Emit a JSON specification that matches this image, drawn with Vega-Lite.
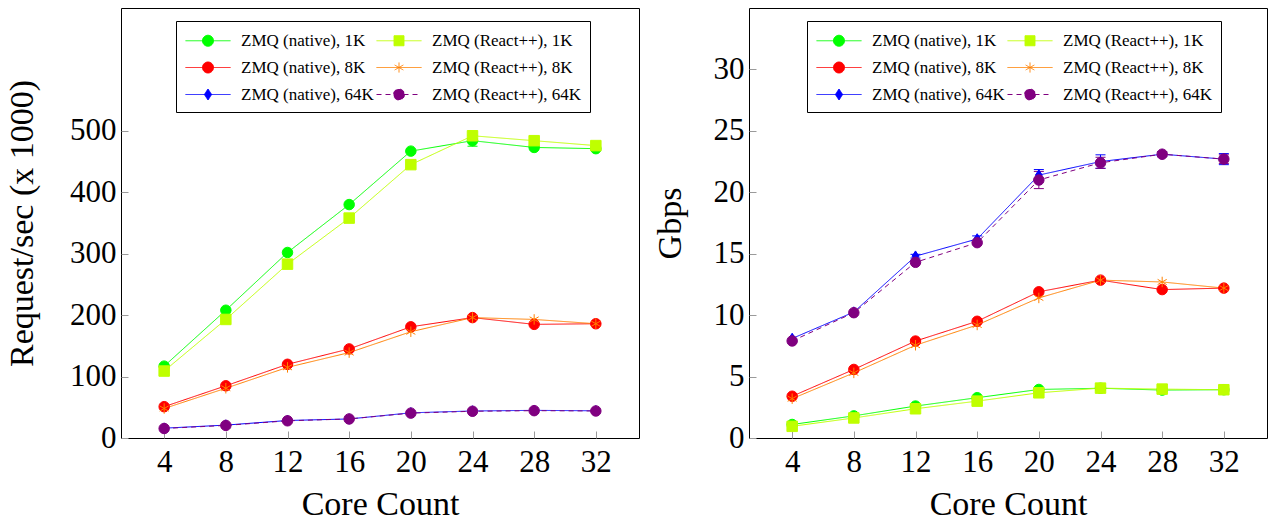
{
  "$schema": "https://vega.github.io/schema/vega-lite/v6.json",
  "padding": {"left": 5, "top": 7, "right": 0, "bottom": 0},
  "background": "white",
  "config": {
    "view": {"stroke": "black", "strokeWidth": 1},
    "axis": {
      "domain": false,
      "grid": false,
      "tickColor": "#9a9a9a",
      "tickSize": -7,
      "labelFont": "Liberation Serif",
      "labelFontSize": 31,
      "labelColor": "black",
      "titleFont": "Liberation Serif",
      "titleFontSize": 34,
      "titleFontWeight": "normal",
      "titleColor": "black"
    },
    "legend": {
      "orient": "none",
      "columns": 2,
      "strokeColor": "black",
      "fillColor": "white",
      "padding": 9,
      "labelFont": "Liberation Serif",
      "labelFontSize": 17,
      "labelColor": "black",
      "symbolSize": 400,
      "symbolStrokeWidth": 1,
      "symbolOffset": 12.5,
      "labelOffset": 22.5,
      "rowPadding": 8,
      "columnPadding": 0
    },
    "point": {"size": 110, "opacity": 1, "strokeWidth": 1, "filled": true}
  },
  "datasets": {
    "req": [
      {"series": "ZMQ (native), 1K", "cores": 4, "value": 117},
      {"series": "ZMQ (native), 1K", "cores": 8, "value": 208},
      {"series": "ZMQ (native), 1K", "cores": 12, "value": 302},
      {"series": "ZMQ (native), 1K", "cores": 16, "value": 380},
      {"series": "ZMQ (native), 1K", "cores": 20, "value": 467},
      {"series": "ZMQ (native), 1K", "cores": 24, "value": 484},
      {"series": "ZMQ (native), 1K", "cores": 28, "value": 473},
      {"series": "ZMQ (native), 1K", "cores": 32, "value": 471},
      {"series": "ZMQ (React++), 1K", "cores": 4, "value": 109},
      {"series": "ZMQ (React++), 1K", "cores": 8, "value": 193},
      {"series": "ZMQ (React++), 1K", "cores": 12, "value": 283},
      {"series": "ZMQ (React++), 1K", "cores": 16, "value": 358},
      {"series": "ZMQ (React++), 1K", "cores": 20, "value": 445},
      {"series": "ZMQ (React++), 1K", "cores": 24, "value": 492},
      {"series": "ZMQ (React++), 1K", "cores": 28, "value": 484},
      {"series": "ZMQ (React++), 1K", "cores": 32, "value": 476},
      {"series": "ZMQ (native), 8K", "cores": 4, "value": 51},
      {"series": "ZMQ (native), 8K", "cores": 8, "value": 85},
      {"series": "ZMQ (native), 8K", "cores": 12, "value": 120},
      {"series": "ZMQ (native), 8K", "cores": 16, "value": 145},
      {"series": "ZMQ (native), 8K", "cores": 20, "value": 181},
      {"series": "ZMQ (native), 8K", "cores": 24, "value": 196},
      {"series": "ZMQ (native), 8K", "cores": 28, "value": 185},
      {"series": "ZMQ (native), 8K", "cores": 32, "value": 186},
      {"series": "ZMQ (React++), 8K", "cores": 4, "value": 48},
      {"series": "ZMQ (React++), 8K", "cores": 8, "value": 81},
      {"series": "ZMQ (React++), 8K", "cores": 12, "value": 115},
      {"series": "ZMQ (React++), 8K", "cores": 16, "value": 139},
      {"series": "ZMQ (React++), 8K", "cores": 20, "value": 173},
      {"series": "ZMQ (React++), 8K", "cores": 24, "value": 196},
      {"series": "ZMQ (React++), 8K", "cores": 28, "value": 193},
      {"series": "ZMQ (React++), 8K", "cores": 32, "value": 186},
      {"series": "ZMQ (native), 64K", "cores": 4, "value": 16},
      {"series": "ZMQ (native), 64K", "cores": 8, "value": 21},
      {"series": "ZMQ (native), 64K", "cores": 12, "value": 28.5},
      {"series": "ZMQ (native), 64K", "cores": 16, "value": 31},
      {"series": "ZMQ (native), 64K", "cores": 20, "value": 41},
      {"series": "ZMQ (native), 64K", "cores": 24, "value": 44},
      {"series": "ZMQ (native), 64K", "cores": 28, "value": 45},
      {"series": "ZMQ (native), 64K", "cores": 32, "value": 44.3},
      {"series": "ZMQ (React++), 64K", "cores": 4, "value": 15.5},
      {"series": "ZMQ (React++), 64K", "cores": 8, "value": 20.5},
      {"series": "ZMQ (React++), 64K", "cores": 12, "value": 28},
      {"series": "ZMQ (React++), 64K", "cores": 16, "value": 31},
      {"series": "ZMQ (React++), 64K", "cores": 20, "value": 40.5},
      {"series": "ZMQ (React++), 64K", "cores": 24, "value": 43.5},
      {"series": "ZMQ (React++), 64K", "cores": 28, "value": 44.5},
      {"series": "ZMQ (React++), 64K", "cores": 32, "value": 44}
    ],
    "reqErr": [
      {"series": "ZMQ (native), 1K", "cores": 24, "lo": 475, "hi": 493}
    ],
    "gbps": [
      {"series": "ZMQ (native), 1K", "cores": 4, "value": 1.1},
      {"series": "ZMQ (native), 1K", "cores": 8, "value": 1.8},
      {"series": "ZMQ (native), 1K", "cores": 12, "value": 2.6},
      {"series": "ZMQ (native), 1K", "cores": 16, "value": 3.28},
      {"series": "ZMQ (native), 1K", "cores": 20, "value": 3.95},
      {"series": "ZMQ (native), 1K", "cores": 24, "value": 4.05},
      {"series": "ZMQ (native), 1K", "cores": 28, "value": 3.9},
      {"series": "ZMQ (native), 1K", "cores": 32, "value": 3.93},
      {"series": "ZMQ (React++), 1K", "cores": 4, "value": 0.95},
      {"series": "ZMQ (React++), 1K", "cores": 8, "value": 1.63},
      {"series": "ZMQ (React++), 1K", "cores": 12, "value": 2.38},
      {"series": "ZMQ (React++), 1K", "cores": 16, "value": 3.0},
      {"series": "ZMQ (React++), 1K", "cores": 20, "value": 3.68},
      {"series": "ZMQ (React++), 1K", "cores": 24, "value": 4.06},
      {"series": "ZMQ (React++), 1K", "cores": 28, "value": 3.98},
      {"series": "ZMQ (React++), 1K", "cores": 32, "value": 3.93},
      {"series": "ZMQ (native), 8K", "cores": 4, "value": 3.4},
      {"series": "ZMQ (native), 8K", "cores": 8, "value": 5.58},
      {"series": "ZMQ (native), 8K", "cores": 12, "value": 7.89},
      {"series": "ZMQ (native), 8K", "cores": 16, "value": 9.5},
      {"series": "ZMQ (native), 8K", "cores": 20, "value": 11.9},
      {"series": "ZMQ (native), 8K", "cores": 24, "value": 12.85},
      {"series": "ZMQ (native), 8K", "cores": 28, "value": 12.08},
      {"series": "ZMQ (native), 8K", "cores": 32, "value": 12.2},
      {"series": "ZMQ (React++), 8K", "cores": 4, "value": 3.2},
      {"series": "ZMQ (React++), 8K", "cores": 8, "value": 5.3},
      {"series": "ZMQ (React++), 8K", "cores": 12, "value": 7.55},
      {"series": "ZMQ (React++), 8K", "cores": 16, "value": 9.2},
      {"series": "ZMQ (React++), 8K", "cores": 20, "value": 11.4},
      {"series": "ZMQ (React++), 8K", "cores": 24, "value": 12.85},
      {"series": "ZMQ (React++), 8K", "cores": 28, "value": 12.7},
      {"series": "ZMQ (React++), 8K", "cores": 32, "value": 12.2},
      {"series": "ZMQ (native), 64K", "cores": 4, "value": 8.1},
      {"series": "ZMQ (native), 64K", "cores": 8, "value": 10.25},
      {"series": "ZMQ (native), 64K", "cores": 12, "value": 14.8},
      {"series": "ZMQ (native), 64K", "cores": 16, "value": 16.2},
      {"series": "ZMQ (native), 64K", "cores": 20, "value": 21.4},
      {"series": "ZMQ (native), 64K", "cores": 24, "value": 22.5},
      {"series": "ZMQ (native), 64K", "cores": 28, "value": 23.1},
      {"series": "ZMQ (native), 64K", "cores": 32, "value": 22.7},
      {"series": "ZMQ (React++), 64K", "cores": 4, "value": 7.9},
      {"series": "ZMQ (React++), 64K", "cores": 8, "value": 10.2},
      {"series": "ZMQ (React++), 64K", "cores": 12, "value": 14.3},
      {"series": "ZMQ (React++), 64K", "cores": 16, "value": 15.9},
      {"series": "ZMQ (React++), 64K", "cores": 20, "value": 21.0},
      {"series": "ZMQ (React++), 64K", "cores": 24, "value": 22.4},
      {"series": "ZMQ (React++), 64K", "cores": 28, "value": 23.1},
      {"series": "ZMQ (React++), 64K", "cores": 32, "value": 22.7}
    ],
    "gbpsErr": [
      {"series": "ZMQ (native), 64K", "cores": 12, "lo": 14.65, "hi": 14.95},
      {"series": "ZMQ (native), 64K", "cores": 16, "lo": 15.95, "hi": 16.45},
      {"series": "ZMQ (native), 64K", "cores": 20, "lo": 20.95, "hi": 21.85},
      {"series": "ZMQ (native), 64K", "cores": 24, "lo": 21.95, "hi": 23.05},
      {"series": "ZMQ (native), 64K", "cores": 28, "lo": 22.9, "hi": 23.3},
      {"series": "ZMQ (native), 64K", "cores": 32, "lo": 22.25, "hi": 23.15},
      {"series": "ZMQ (React++), 64K", "cores": 20, "lo": 20.3, "hi": 21.7},
      {"series": "ZMQ (React++), 64K", "cores": 24, "lo": 21.95, "hi": 22.85},
      {"series": "ZMQ (React++), 64K", "cores": 28, "lo": 22.9, "hi": 23.3},
      {"series": "ZMQ (React++), 64K", "cores": 32, "lo": 22.35, "hi": 23.05}
    ]
  },
  "resolve": {
    "scale": {"color": "independent", "stroke": "independent", "shape": "independent", "strokeDash": "independent", "y": "independent", "x": "independent"},
    "legend": {"color": "independent", "stroke": "independent", "shape": "independent", "strokeDash": "independent"}
  },
  "spacing": 12,
  "hconcat": [
    {
      "width": 518,
      "height": 430,
      "encoding": {
        "x": {"field": "cores", "type": "quantitative", "title": "Core Count",
              "scale": {"domain": [1.2, 34.8], "nice": false, "zero": false},
              "axis": {"values": [4, 8, 12, 16, 20, 24, 28, 32], "labelPadding": 16, "titlePadding": 10}},
        "y": {"field": "value", "type": "quantitative", "title": "Request/sec (x 1000)",
              "scale": {"domain": [0, 700], "nice": false},
              "axis": {"values": [0, 100, 200, 300, 400, 500], "labelPadding": 12, "titlePadding": 30}},
        "color": {"field": "series", "type": "nominal", "title": null,
                  "scale": {"domain": ["ZMQ (native), 1K", "ZMQ (native), 8K", "ZMQ (native), 64K", "ZMQ (React++), 1K", "ZMQ (React++), 8K", "ZMQ (React++), 64K"],
                            "range": ["#00ff00", "#ff0000", "#0000ff", "#bfff00", "#ff8000", "#800080"]},
                  "legend": {"legendX": 55, "legendY": 13}}
      },
      "layer": [
        {
          "data": {"name": "req"},
          "mark": {"type": "line", "strokeWidth": 1},
          "encoding": {
            "strokeDash": {"field": "series", "type": "nominal", "title": null,
                           "scale": {"domain": ["ZMQ (native), 1K", "ZMQ (native), 8K", "ZMQ (native), 64K", "ZMQ (React++), 1K", "ZMQ (React++), 8K", "ZMQ (React++), 64K"],
                                     "range": [[1, 0], [1, 0], [1, 0], [1, 0], [1, 0], [5, 4]]}}
          }
        },
        {
          "data": {"name": "reqErr"},
          "mark": {"type": "rule", "strokeWidth": 1},
          "encoding": {"y": {"field": "lo", "type": "quantitative"}, "y2": {"field": "hi"}}
        },
        {
          "data": {"name": "reqErr"},
          "mark": {"type": "tick", "orient": "horizontal", "size": 10, "thickness": 1, "opacity": 1},
          "encoding": {"y": {"field": "lo", "type": "quantitative"}}
        },
        {
          "data": {"name": "reqErr"},
          "mark": {"type": "tick", "orient": "horizontal", "size": 10, "thickness": 1, "opacity": 1},
          "encoding": {"y": {"field": "hi", "type": "quantitative"}}
        },
        {
          "data": {"values": []},
          "mark": {"type": "point"},
          "encoding": {
            "stroke": {"field": "series", "type": "nominal", "title": null,
                       "scale": {"domain": ["ZMQ (native), 1K", "ZMQ (native), 8K", "ZMQ (native), 64K", "ZMQ (React++), 1K", "ZMQ (React++), 8K", "ZMQ (React++), 64K"],
                                 "range": ["#00ff00", "#ff0000", "#0000ff", "#bfff00", "#ff8000", "#800080"]}},
            "shape": {"field": "series", "type": "nominal", "title": null,
                      "scale": {"domain": ["ZMQ (native), 1K", "ZMQ (native), 8K", "ZMQ (native), 64K", "ZMQ (React++), 1K", "ZMQ (React++), 8K", "ZMQ (React++), 64K"],
                                "range": [
                                  "M-2.25,0H2.25M0.55,0A0.55,0.55,0,1,1,-0.55,0A0.55,0.55,0,1,1,0.55,0Z",
                                  "M-2.25,0H2.25M0.55,0A0.55,0.55,0,1,1,-0.55,0A0.55,0.55,0,1,1,0.55,0Z",
                                  "M-2.25,0H2.25M0,-0.55L0.36,0L0,0.55L-0.36,0Z",
                                  "M-2.25,0H2.25M-0.5,-0.5H0.5V0.5H-0.5Z",
                                  "M-2.25,0H2.25M0,-0.5V0.5M-0.433,-0.25L0.433,0.25M-0.433,0.25L0.433,-0.25",
                                  "M-2.25,0H2.25M0.55,0A0.55,0.55,0,1,1,-0.55,0A0.55,0.55,0,1,1,0.55,0Z"
                                ]}},
            "strokeDash": {"field": "series", "type": "nominal", "title": null}
          }
        },
        {
          "data": {"name": "req"},
          "transform": [{"filter": {"field": "series", "oneOf": ["ZMQ (native), 1K", "ZMQ (native), 8K"]}}],
          "mark": {"type": "point", "shape": "circle"},
          "encoding": {"stroke": {"field": "series", "type": "nominal", "title": null}}
        },
        {
          "data": {"name": "req"},
          "transform": [{"filter": {"field": "series", "equal": "ZMQ (React++), 1K"}}],
          "mark": {"type": "point", "shape": "square"},
          "encoding": {"stroke": {"field": "series", "type": "nominal", "title": null}}
        },
        {
          "data": {"name": "req"},
          "transform": [{"filter": {"field": "series", "equal": "ZMQ (React++), 8K"}}],
          "mark": {"type": "point", "shape": "M0,-1V1M-0.866,-0.5L0.866,0.5M-0.866,0.5L0.866,-0.5"},
          "encoding": {"stroke": {"field": "series", "type": "nominal", "title": null}}
        },
        {
          "data": {"name": "req"},
          "transform": [{"filter": {"field": "series", "equal": "ZMQ (native), 64K"}}],
          "mark": {"type": "point", "shape": "M0,-1L0.65,0L0,1L-0.65,0Z"},
          "encoding": {"stroke": {"field": "series", "type": "nominal", "title": null}}
        },
        {
          "data": {"name": "req"},
          "transform": [{"filter": {"field": "series", "equal": "ZMQ (React++), 64K"}}],
          "mark": {"type": "point", "shape": "circle"},
          "encoding": {"stroke": {"field": "series", "type": "nominal", "title": null}}
        }
      ]
    },
    {
      "width": 518,
      "height": 430,
      "encoding": {
        "x": {"field": "cores", "type": "quantitative", "title": "Core Count",
              "scale": {"domain": [1.2, 34.8], "nice": false, "zero": false},
              "axis": {"values": [4, 8, 12, 16, 20, 24, 28, 32], "labelPadding": 16, "titlePadding": 10}},
        "y": {"field": "value", "type": "quantitative", "title": "Gbps",
              "scale": {"domain": [0, 35], "nice": false},
              "axis": {"values": [0, 5, 10, 15, 20, 25, 30], "labelPadding": 12, "titlePadding": 26}},
        "color": {"field": "series", "type": "nominal", "title": null,
                  "scale": {"domain": ["ZMQ (native), 1K", "ZMQ (native), 8K", "ZMQ (native), 64K", "ZMQ (React++), 1K", "ZMQ (React++), 8K", "ZMQ (React++), 64K"],
                            "range": ["#00ff00", "#ff0000", "#0000ff", "#bfff00", "#ff8000", "#800080"]},
                  "legend": {"legendX": 58, "legendY": 13}}
      },
      "layer": [
        {
          "data": {"name": "gbps"},
          "mark": {"type": "line", "strokeWidth": 1},
          "encoding": {
            "strokeDash": {"field": "series", "type": "nominal", "title": null,
                           "scale": {"domain": ["ZMQ (native), 1K", "ZMQ (native), 8K", "ZMQ (native), 64K", "ZMQ (React++), 1K", "ZMQ (React++), 8K", "ZMQ (React++), 64K"],
                                     "range": [[1, 0], [1, 0], [1, 0], [1, 0], [1, 0], [5, 4]]}}
          }
        },
        {
          "data": {"name": "gbpsErr"},
          "mark": {"type": "rule", "strokeWidth": 1},
          "encoding": {"y": {"field": "lo", "type": "quantitative"}, "y2": {"field": "hi"}}
        },
        {
          "data": {"name": "gbpsErr"},
          "mark": {"type": "tick", "orient": "horizontal", "size": 10, "thickness": 1, "opacity": 1},
          "encoding": {"y": {"field": "lo", "type": "quantitative"}}
        },
        {
          "data": {"name": "gbpsErr"},
          "mark": {"type": "tick", "orient": "horizontal", "size": 10, "thickness": 1, "opacity": 1},
          "encoding": {"y": {"field": "hi", "type": "quantitative"}}
        },
        {
          "data": {"values": []},
          "mark": {"type": "point"},
          "encoding": {
            "stroke": {"field": "series", "type": "nominal", "title": null,
                       "scale": {"domain": ["ZMQ (native), 1K", "ZMQ (native), 8K", "ZMQ (native), 64K", "ZMQ (React++), 1K", "ZMQ (React++), 8K", "ZMQ (React++), 64K"],
                                 "range": ["#00ff00", "#ff0000", "#0000ff", "#bfff00", "#ff8000", "#800080"]}},
            "shape": {"field": "series", "type": "nominal", "title": null,
                      "scale": {"domain": ["ZMQ (native), 1K", "ZMQ (native), 8K", "ZMQ (native), 64K", "ZMQ (React++), 1K", "ZMQ (React++), 8K", "ZMQ (React++), 64K"],
                                "range": [
                                  "M-2.25,0H2.25M0.55,0A0.55,0.55,0,1,1,-0.55,0A0.55,0.55,0,1,1,0.55,0Z",
                                  "M-2.25,0H2.25M0.55,0A0.55,0.55,0,1,1,-0.55,0A0.55,0.55,0,1,1,0.55,0Z",
                                  "M-2.25,0H2.25M0,-0.55L0.36,0L0,0.55L-0.36,0Z",
                                  "M-2.25,0H2.25M-0.5,-0.5H0.5V0.5H-0.5Z",
                                  "M-2.25,0H2.25M0,-0.5V0.5M-0.433,-0.25L0.433,0.25M-0.433,0.25L0.433,-0.25",
                                  "M-2.25,0H2.25M0.55,0A0.55,0.55,0,1,1,-0.55,0A0.55,0.55,0,1,1,0.55,0Z"
                                ]}},
            "strokeDash": {"field": "series", "type": "nominal", "title": null}
          }
        },
        {
          "data": {"name": "gbps"},
          "transform": [{"filter": {"field": "series", "oneOf": ["ZMQ (native), 1K", "ZMQ (native), 8K"]}}],
          "mark": {"type": "point", "shape": "circle"},
          "encoding": {"stroke": {"field": "series", "type": "nominal", "title": null}}
        },
        {
          "data": {"name": "gbps"},
          "transform": [{"filter": {"field": "series", "equal": "ZMQ (React++), 1K"}}],
          "mark": {"type": "point", "shape": "square"},
          "encoding": {"stroke": {"field": "series", "type": "nominal", "title": null}}
        },
        {
          "data": {"name": "gbps"},
          "transform": [{"filter": {"field": "series", "equal": "ZMQ (React++), 8K"}}],
          "mark": {"type": "point", "shape": "M0,-1V1M-0.866,-0.5L0.866,0.5M-0.866,0.5L0.866,-0.5"},
          "encoding": {"stroke": {"field": "series", "type": "nominal", "title": null}}
        },
        {
          "data": {"name": "gbps"},
          "transform": [{"filter": {"field": "series", "equal": "ZMQ (native), 64K"}}],
          "mark": {"type": "point", "shape": "M0,-1L0.65,0L0,1L-0.65,0Z"},
          "encoding": {"stroke": {"field": "series", "type": "nominal", "title": null}}
        },
        {
          "data": {"name": "gbps"},
          "transform": [{"filter": {"field": "series", "equal": "ZMQ (React++), 64K"}}],
          "mark": {"type": "point", "shape": "circle"},
          "encoding": {"stroke": {"field": "series", "type": "nominal", "title": null}}
        }
      ]
    }
  ]
}
